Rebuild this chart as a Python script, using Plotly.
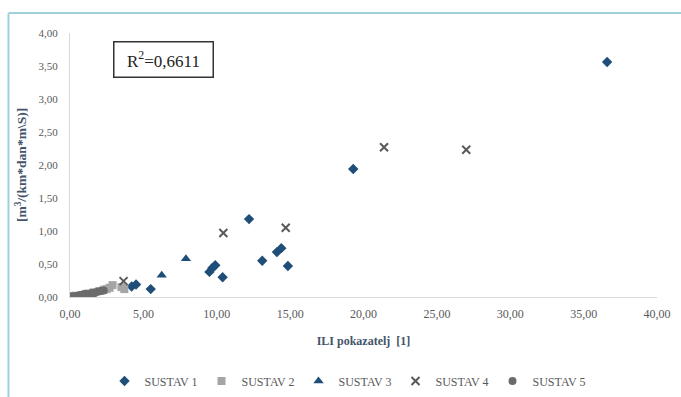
import plotly.graph_objects as go

# ILI indicator vs. specific losses, per water supply system
s1_x = [36.6, 19.3, 12.2, 4.2, 4.5, 5.5, 9.5, 9.7, 9.9, 10.4, 13.1, 14.1, 14.4, 14.85]
s1_y = [3.56, 1.94, 1.18, 0.16, 0.19, 0.12, 0.38, 0.44, 0.48, 0.30, 0.55, 0.68, 0.74, 0.47]

s2_x = [0.1, 0.4, 0.8, 1.2, 1.6, 2.0, 2.3, 2.5, 2.7, 2.9, 3.5, 3.7]
s2_y = [0.01, 0.02, 0.03, 0.05, 0.07, 0.09, 0.11, 0.12, 0.14, 0.18, 0.15, 0.12]

s3_x = [6.25, 7.9]
s3_y = [0.33, 0.58]

s4_x = [3.65, 10.45, 14.7, 21.4, 27.0]
s4_y = [0.24, 0.97, 1.05, 2.27, 2.23]

s5_x = [0.0, 0.1, 0.2, 0.35, 0.5, 0.6, 0.7, 0.85, 0.9, 1.1, 1.2, 1.3, 1.5, 1.6, 1.7, 1.9, 2.1, 2.3]
s5_y = [0.00, 0.01, 0.00, 0.01, 0.02, 0.01, 0.03, 0.02, 0.04, 0.05, 0.04, 0.05, 0.06, 0.05, 0.07, 0.08, 0.09, 0.10]

x_ticks = [0, 5, 10, 15, 20, 25, 30, 35, 40]
x_tick_labels = ["0,00", "5,00", "10,00", "15,00", "20,00", "25,00", "30,00", "35,00", "40,00"]
y_ticks = [0, 0.5, 1, 1.5, 2, 2.5, 3, 3.5, 4]
y_tick_labels = ["0,00", "0,50", "1,00", "1,50", "2,00", "2,50", "3,00", "3,50", "4,00"]

SERIF = "Liberation Serif, Times New Roman, serif"
BLUE = "#1f4e79"
NOTICK = "rgba(0,0,0,0)"

fig = go.Figure()
fig.add_trace(go.Scatter(x=s1_x, y=s1_y, mode="markers", name="SUSTAV 1",
                         marker=dict(symbol="diamond", size=8, color=BLUE)))
fig.add_trace(go.Scatter(x=s2_x, y=s2_y, mode="markers", name="SUSTAV 2",
                         marker=dict(symbol="square", size=8, color="#a5a5a5")))
fig.add_trace(go.Scatter(x=s3_x, y=s3_y, mode="markers", name="SUSTAV 3",
                         marker=dict(symbol="triangle-up", size=9, color=BLUE)))
fig.add_trace(go.Scatter(x=s4_x, y=s4_y, mode="markers", name="SUSTAV 4",
                         marker=dict(symbol="x-thin", size=8, color="#595959",
                                     line=dict(width=2, color="#595959"))))
fig.add_trace(go.Scatter(x=s5_x, y=s5_y, mode="markers", name="SUSTAV 5",
                         marker=dict(symbol="circle", size=8, color="#6b6b6b")))

W, H = 681, 397
L, R, T, B = 70, 24, 33, 100
pw, ph = W - L - R, H - T - B


def px(xp):
    return (xp - L) / pw


def py(yp):
    return (H - B - yp) / ph


# outer frame (left and top edges)
fig.add_shape(type="line", xref="paper", yref="paper",
              x0=px(8.5), x1=px(8.5), y0=py(13), y1=py(400),
              line=dict(color="#9fd0dc", width=2))
fig.add_shape(type="line", xref="paper", yref="paper",
              x0=px(8.5), x1=px(690), y0=py(13), y1=py(13),
              line=dict(color="#9fd0dc", width=2))

fig.add_annotation(xref="paper", yref="paper", x=px(163), y=py(59),
                   xanchor="center", yanchor="middle",
                   text="R<sup>2</sup>=0,6611", showarrow=False,
                   font=dict(family=SERIF, size=17, color="#222222"),
                   bordercolor="#333333", borderwidth=1.5, borderpad=6,
                   bgcolor="white", width=86)

fig.update_layout(
    width=W, height=H,
    margin=dict(l=L, r=R, t=T, b=B, autoexpand=False),
    paper_bgcolor="white", plot_bgcolor="white",
    font=dict(family=SERIF, color="#595959", size=11),
    showlegend=True,
    legend=dict(orientation="h", x=px(347), xanchor="center", y=py(381), yanchor="middle",
                font=dict(family=SERIF, size=12, color="#595959"),
                itemwidth=30, tracegroupgap=0,
                entrywidth=52, entrywidthmode="pixels"),
    xaxis=dict(range=[0, 40], tickvals=x_ticks, ticktext=x_tick_labels,
               showgrid=False, zeroline=False, showline=True, linecolor="#d9d9d9",
               linewidth=1, ticks="outside", ticklen=6, tickcolor=NOTICK,
               tickfont=dict(family=SERIF, size=12, color="#595959"),
               title=dict(text="<b>ILI pokazatelj  [1]</b>", standoff=16,
                          font=dict(family=SERIF, size=12, color="#44546a"))),
    yaxis=dict(range=[0, 4], tickvals=y_ticks, ticktext=y_tick_labels,
               showgrid=False, zeroline=False, showline=True, linecolor="#d9d9d9",
               linewidth=1, ticks="outside", ticklen=9, tickcolor=NOTICK,
               tickfont=dict(family=SERIF, size=11, color="#595959"),
               title=dict(text="<b>[m<sup>3</sup>/(km*dan*m\\S)]</b>", standoff=8,
                          font=dict(family=SERIF, size=13.5, color="#44546a"))),
)

fig.write_html("out.html")
